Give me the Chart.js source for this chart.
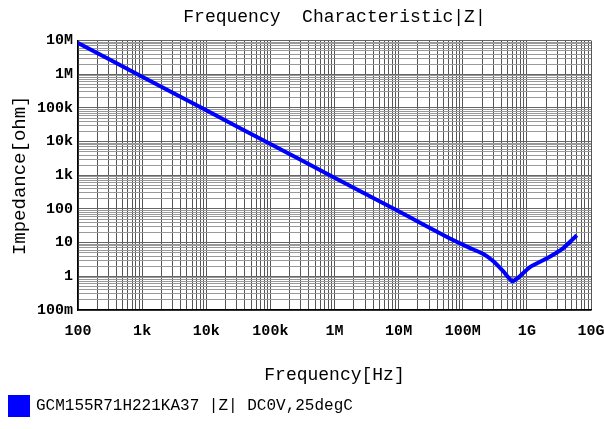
<!DOCTYPE html>
<html>
<head>
<meta charset="utf-8">
<script src="https://cdn.jsdelivr.net/npm/chart.js@4/dist/chart.umd.min.js"></script>
<style>
  html, body { margin: 0; padding: 0; background: #fff; }
  #wrap { width: 604px; height: 429px; }
</style>
</head>
<body>
<div id="wrap"><canvas id="chartZ" width="604" height="429"></canvas></div>
<script>
// values
const freqHz = [100, 1e3, 1e4, 1e5, 1e6, 1e7, 6.3e7, 1.3e8, 2.1e8, 3e8, 4.3e8, 5.9e8, 7.1e8, 1.13e9, 2.1e9, 3.7e9, 6.0e9];
const impOhm = [8.5e6, 8.5e5, 8.5e4, 8.5e3, 850, 86, 13.2, 6.9, 4.6, 2.8, 1.4, 0.71, 0.87, 1.9, 3.5, 6.9, 16.5];

const xTickLabels = { 1e2: "100", 1e3: "1k", 1e4: "10k", 1e5: "100k", 1e6: "1M", 1e7: "10M", 1e8: "100M", 1e9: "1G", 1e10: "10G" };
const yTickLabels = { 0.1: "100m", 1: "1", 10: "10", 100: "100", 1e3: "1k", 1e4: "10k", 1e5: "100k", 1e6: "1M", 1e7: "10M" };

const seriesName = "GCM155R71H221KA37 |Z| DC0V,25degC";
const mono = "'Liberation Mono', 'DejaVu Sans Mono', monospace";

function logTicks(minExp, maxExp) {
  let out = [];
  for (let e = minExp; e < maxExp; e++) {
    for (let m = 1; m <= 9; m++) out.push({ value: Number((m * Math.pow(10, e)).toPrecision(3)) });
  }
  out.push({ value: Math.pow(10, maxExp) });
  return out;
}

function isMajor(v) {
  const l = Math.log10(v);
  return Math.abs(l - Math.round(l)) < 1e-6;
}

const ctx = document.getElementById("chartZ");

new Chart(ctx, {
  type: "line",
  data: {
    datasets: [{
      label: seriesName,
      data: freqHz.map((f, i) => ({ x: f, y: impOhm[i] })),
      borderColor: "#0000ff",
      backgroundColor: "#0000ff",
      borderWidth: 4,
      pointRadius: 0,
      tension: 0.15,
      fill: false
    }]
  },
  options: {
    responsive: false,
    animation: false,
    devicePixelRatio: 1,
    layout: { padding: { left: 0, right: 0, top: 0, bottom: 4 } },
    plugins: {
      title: {
        display: true,
        text: "Frequency  Characteristic|Z|",
        fullSize: false,
        color: "#000",
        font: { family: mono, size: 18, weight: "normal" },
        padding: { top: 6, bottom: 13 }
      },
      legend: {
        display: true,
        position: "bottom",
        align: "start",
        labels: {
          color: "#000",
          boxWidth: 18,
          boxHeight: 18,
          padding: 10,
          font: { family: mono, size: 16 }
        }
      },
      tooltip: { enabled: false }
    },
    scales: {
      x: {
        type: "logarithmic",
        min: 100,
        max: 1e10,
        afterBuildTicks: s => { s.ticks = logTicks(2, 10); },
        afterFit: s => {
          s.height = 77;
          s.paddingLeft = 0;
          s.paddingRight = 13;
        },
        ticks: {
          autoSkip: false,
          maxRotation: 0,
          padding: 12,
          color: "#000",
          font: { family: mono, size: 15, weight: "bold" },
          callback: v => xTickLabels[v] || ""
        },
        grid: {
          drawTicks: false,
          color: "#555",
          lineWidth: 1
        },
        border: { color: "#000", width: 1.5 },
        title: {
          display: true,
          text: "Frequency[Hz]",
          color: "#000",
          font: { family: mono, size: 18 },
          padding: { top: 0, bottom: 1 }
        }
      },
      y: {
        type: "logarithmic",
        min: 0.1,
        max: 1e7,
        afterBuildTicks: s => { s.ticks = logTicks(-1, 7); },
        afterFit: s => { s.width = 78; },
        ticks: {
          autoSkip: false,
          padding: 5,
          color: "#000",
          font: { family: mono, size: 15, weight: "bold" },
          callback: v => yTickLabels[v] || ""
        },
        grid: {
          drawTicks: false,
          color: c => isMajor(c.tick.value) ? "#666" : "#999",
          lineWidth: 1
        },
        border: { color: "#000", width: 1.5 },
        title: {
          display: true,
          text: "Impedance[ohm]",
          color: "#000",
          font: { family: mono, size: 19 },
          padding: { top: 9, bottom: 0 }
        }
      }
    }
  }
});
</script>
</body>
</html>
